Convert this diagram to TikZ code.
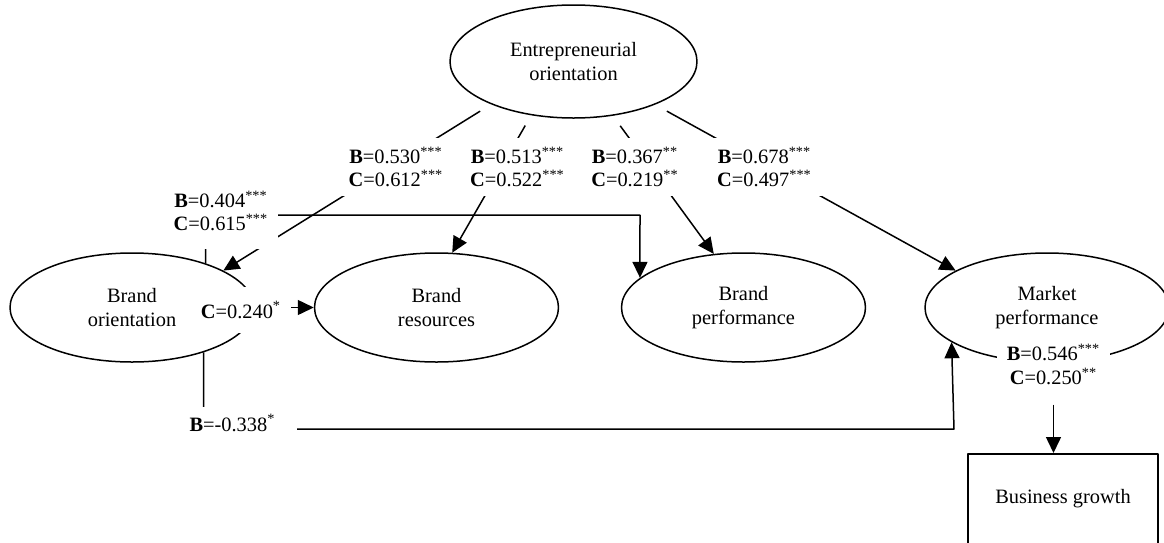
\documentclass[tikz,border=0pt]{standalone}
\usepackage{fontspec}
\setmainfont{Liberation Serif}
\usetikzlibrary{arrows.meta,shapes.geometric}
\begin{document}
\begin{tikzpicture}[x=0.5pt,y=-0.5pt,line width=0.75pt,line join=round,>={Triangle[length=8pt,width=7.5pt]},
  font=\fontsize{10.2}{11.8}\selectfont,
  oval/.style={draw,ellipse,minimum width=122pt,minimum height=54.5pt,align=center,inner sep=0pt},
  coef/.style={fill=white,align=center,inner xsep=5pt,inner ysep=4.5pt}]
\def\yr{307.5}
\useasboundingbox (0,0) rectangle (1164,542);
\clip (0,0) rectangle (1164,542);
% constructs
\node[oval,minimum width=123.5pt,minimum height=56.5pt,outer sep=6pt] (eo) at (573.5,61.5) {Entrepreneurial\\orientation};
\node[oval] (bo) at (132,\yr) {Brand\\orientation};
\node[oval] (br) at (436.5,\yr) {Brand\\resources};
\node[oval] (bp) at (743.5,\yr) {Brand\\performance};
\node[oval] (mp) at (1047,\yr) {Market\\performance};
\node[draw,minimum width=95pt,minimum height=45pt,anchor=north] (bg) at (1063,453) {Business growth};
\coordinate (k1) at (640,215);
\coordinate (k2) at (954,429);
% paths
\draw[->] (eo.208.4)--(bo.22.7);
\draw[->] (eo.233.5)--(br.74);
\draw[->] (eo.306.1)--(bp.119.6);
\draw[->] (eo.332.1)--(mp.158.5);
\draw[->] (bo)--(br);
\draw[->] (bo.31.4)|-(k1)--(bp.164.45);
\draw[->] (bo.328.6)|-(k2)--(mp.200.8);
% coefficients
\node[coef] (c1) at (396,167) {\textbf{B}=0.530\textsuperscript{***}\\\textbf{C}=0.612\textsuperscript{***}};
\node[coef] (c2) at (517.5,167) {\textbf{B}=0.513\textsuperscript{***}\\\textbf{C}=0.522\textsuperscript{***}};
\node[coef] (c3) at (635,167) {\textbf{B}=0.367\textsuperscript{**}\\\textbf{C}=0.219\textsuperscript{**}};
\node[coef] (c4) at (764.5,167) {\textbf{B}=0.678\textsuperscript{***}\\\textbf{C}=0.497\textsuperscript{***}};
\node[coef,inner ysep=9pt] (c5) at (221,211) {\textbf{B}=0.404\textsuperscript{***}\\\textbf{C}=0.615\textsuperscript{***}};
\node[coef,inner ysep=7.5pt] (c6) at (241,310) {\textbf{C}=0.240\textsuperscript{*}};
\node[coef,inner xsep=11pt,inner ysep=4pt] (c7) at (232.5,423) {\textbf{B}=-0.338\textsuperscript{*}};
\node[coef] (c8) at (1053.5,364.5) {\textbf{B}=0.546\textsuperscript{***}\\\textbf{C}=0.250\textsuperscript{**}};
\draw[->,shorten <=5pt] (c8)--(c8|-bg.north);
\end{tikzpicture}
\end{document}
